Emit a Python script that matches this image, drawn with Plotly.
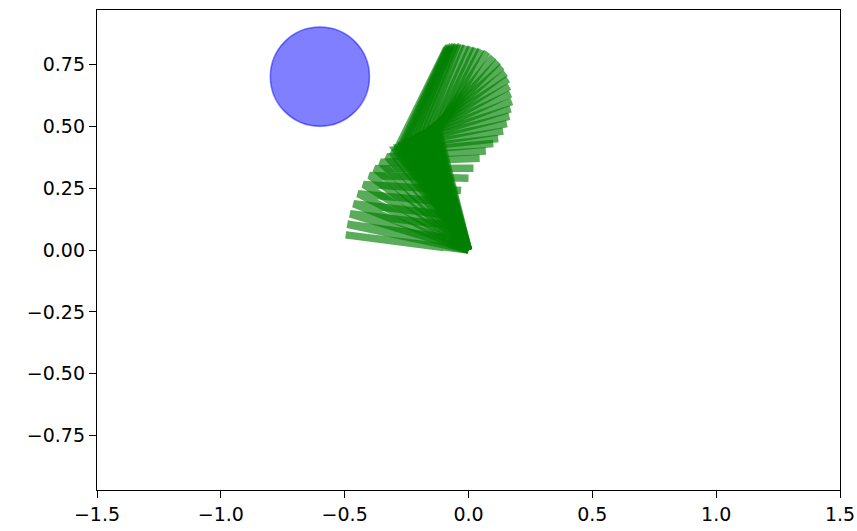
import plotly.graph_objects as go

# Base joint of the arm
base_x = 0.0
base_y = 0.0

# Elbow positions per frame
elbow_x = [-0.496, -0.489, -0.478, -0.464, -0.446, -0.424, -0.399, -0.377, -0.354, -0.328,
           -0.308, -0.294, -0.280, -0.265, -0.250, -0.239, -0.227, -0.215, -0.203, -0.191,
           -0.179, -0.167, -0.155, -0.142, -0.129, -0.121,
           -0.134, -0.146, -0.163, -0.179, -0.195, -0.211, -0.227, -0.242, -0.258, -0.272, -0.287]
elbow_y = [0.061, 0.104, 0.146, 0.187, 0.227, 0.265, 0.301, 0.328, 0.354, 0.377,
           0.394, 0.405, 0.415, 0.424, 0.433, 0.439, 0.445, 0.451, 0.457, 0.462,
           0.467, 0.471, 0.476, 0.479, 0.483, 0.485,
           0.482, 0.478, 0.473, 0.467, 0.460, 0.453, 0.445, 0.437, 0.429, 0.419, 0.410]

# End-effector positions per frame
end_x = [-0.10, -0.09, -0.08, -0.07, -0.05, -0.03, 0.00, 0.02, 0.045, 0.07,
         0.10, 0.12, 0.14, 0.155, 0.165, 0.17, 0.175, 0.17, 0.165, 0.16,
         0.15, 0.135, 0.12, 0.10, 0.075, 0.05,
         0.03, 0.01, -0.01, -0.03, -0.045, -0.055, -0.065, -0.072, -0.078, -0.083, -0.088]
end_y = [0.01, 0.05, 0.10, 0.14, 0.19, 0.24, 0.29, 0.33, 0.37, 0.40,
         0.43, 0.45, 0.48, 0.51, 0.54, 0.57, 0.60, 0.63, 0.66, 0.69,
         0.715, 0.74, 0.76, 0.78, 0.80, 0.81,
         0.815, 0.82, 0.825, 0.83, 0.83, 0.83, 0.83, 0.825, 0.825, 0.82, 0.815]

# Target circle
target_x = -0.6
target_y = 0.7
target_r = 0.2

x_ticks = [-1.5, -1.0, -0.5, 0.0, 0.5, 1.0, 1.5]
y_ticks = [-0.75, -0.5, -0.25, 0.0, 0.25, 0.5, 0.75]

fig = go.Figure()

for ex, ey, tx, ty in zip(elbow_x, elbow_y, end_x, end_y):
    fig.add_trace(go.Scatter(
        x=[base_x, ex, tx], y=[base_y, ey, ty],
        mode="lines",
        line=dict(color="rgba(0,128,0,0.65)", width=7.5),
        hoverinfo="skip", showlegend=False,
    ))

fig.add_shape(
    type="circle", xref="x", yref="y",
    x0=target_x - target_r, x1=target_x + target_r,
    y0=target_y - target_r, y1=target_y + target_r,
    fillcolor="rgba(0,0,255,0.5)",
    line=dict(color="rgba(0,0,255,0.5)", width=1.5),
)

axis_common = dict(
    showgrid=False, zeroline=False, showline=True, linecolor="black", linewidth=1.4,
    mirror=True, ticks="outside", ticklen=7, tickwidth=1.4, tickcolor="black",
    automargin=False,
    tickfont=dict(family="DejaVu Sans", size=19, color="black"),
)

fig.update_xaxes(range=[-1.5, 1.5], tickvals=x_ticks, tickformat=".1f", **axis_common)
fig.update_yaxes(range=[-0.969, 0.969], tickvals=y_ticks, tickformat=".2f", **axis_common)

fig.update_layout(
    width=857, height=531,
    margin=dict(l=97, r=17, t=10, b=41),
    plot_bgcolor="white", paper_bgcolor="white",
    showlegend=False,
)

fig.write_html("out.html")
